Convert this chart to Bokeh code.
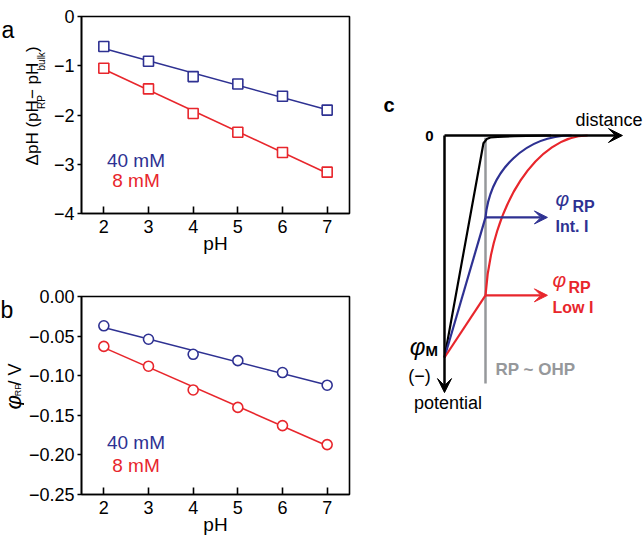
import numpy as np
from math import pi
from bokeh.plotting import figure
from bokeh.layouts import row, column
from bokeh.models import (Range1d, FixedTicker, CustomJSTickFormatter,
                          Arrow, VeeHead)
from bokeh.core.properties import value
from bokeh.embed import file_html
from bokeh.resources import INLINE

# ---------------- data ----------------
ph = [2, 3, 4, 5, 6, 7]
dph_40mM = [-0.61, -0.91, -1.22, -1.37, -1.62, -1.90]
dph_8mM = [-1.05, -1.47, -1.97, -2.35, -2.76, -3.16]
phi_40mM = [-0.037, -0.054, -0.073, -0.081, -0.096, -0.112]
phi_8mM = [-0.063, -0.088, -0.118, -0.140, -0.163, -0.187]
x_ticks = [2, 3, 4, 5, 6, 7]
ya_ticks = [0, -1, -2, -3, -4]
yb_ticks = [0.0, -0.05, -0.10, -0.15, -0.20, -0.25]
series_names = ["40 mM", "8 mM"]

# schematic (panel c): distance (OHP = 1) vs potential (phi_M = -1)
black_d = [0.0, 0.95, 1.03, 1.12, 1.3, 1.7, 2.6]
black_p = [-1.0, -0.035, -0.016, -0.009, -0.006, -0.003, 0.0]
ohp_d = 1.0
blue_rp = -0.369
red_rp = -0.72
# bezier control points (after the OHP) for the two diffuse-layer curves
blue_bez = dict(x0=1.0, y0=-0.369, cx0=1.12, cy0=-0.15, cx1=2.0, cy1=0.0, x1=3.1, y1=0.0)
red_bez = dict(x0=1.0, y0=-0.72, cx0=1.15, cy0=-0.30, cx1=2.3, cy1=0.0, x1=3.49, y1=0.0)

BLUE = "#2E3192"
RED = "#E8262C"
GRAY = "#96989B"
FONT = "Liberation Sans"


def style_axes(p, yfmt):
    p.xgrid.visible = False
    p.ygrid.visible = False
    p.outline_line_color = "black"
    p.outline_line_width = 1.6
    for ax in (p.xaxis[0], p.yaxis[0]):
        ax.axis_line_color = "black"
        ax.axis_line_width = 1.6
        ax.major_tick_line_color = "black"
        ax.major_tick_line_width = 1.6
        ax.minor_tick_line_color = None
        ax.major_label_text_font = FONT
        ax.major_label_text_font_size = "18px"
        ax.major_label_text_color = "black"
        ax.axis_label_text_font = FONT
        ax.axis_label_text_font_size = "19px"
        ax.axis_label_text_font_style = "normal"
        ax.axis_label_text_color = "black"
    p.xaxis.ticker = FixedTicker(ticks=x_ticks)
    p.xaxis.major_tick_in = 7
    p.xaxis.major_tick_out = 0
    p.xaxis.major_label_standoff = 6
    p.xaxis.axis_label = "pH"
    p.xaxis.axis_label_standoff = -3
    p.yaxis.major_tick_in = 0
    p.yaxis.major_tick_out = 4
    p.yaxis.major_label_standoff = 3
    p.yaxis.formatter = CustomJSTickFormatter(code=yfmt)


def fit_line(p, xs, ys, color):
    k, b = np.polyfit(xs, ys, 1)
    xx = [xs[0], xs[-1]]
    p.line(xx, [k * v + b for v in xx], line_color=color, line_width=1.6)


def txt(p, x, y, text, size, angle=0.0, style="normal", color="black",
        align="left", baseline="alphabetic"):
    p.text(x=[x], y=[y], text=[text], angle=angle, text_font=value(FONT),
           text_font_size=size, text_font_style=style, text_color=color,
           text_align=align, text_baseline=baseline)


def vtxt(p, x, y, text, size, style="normal"):
    txt(p, x, y, text, size, angle=pi / 2, style=style, align="center",
        baseline="middle")


def strip(width, height, y0):
    # pixel-like coordinates: x to the right, y = -(page y) so y points up
    s = figure(width=width, height=height, output_backend="svg", title=None,
               toolbar_location=None, x_range=Range1d(0, width),
               y_range=Range1d(-(y0 + height), -y0))
    s.min_border_left = s.min_border_right = 0
    s.min_border_top = s.min_border_bottom = 0
    s.axis.visible = False
    s.grid.visible = False
    s.outline_line_color = None
    return s


# ---------------- panel a ----------------
LA_W = 50
pa = figure(width=360 - LA_W, height=266, output_backend="svg", title=None,
            toolbar_location=None, x_range=Range1d(1.5, 7.5), y_range=Range1d(-4, 0))
pa.min_border_left = 81 - LA_W
pa.min_border_right = 11
pa.min_border_top = 16
pa.min_border_bottom = 53
style_axes(pa, "return tick < -1e-9 ? '\u2212' + Math.abs(tick).toFixed(0) : '0';")
pa.yaxis.ticker = FixedTicker(ticks=ya_ticks)
fit_line(pa, ph, dph_40mM, BLUE)
fit_line(pa, ph, dph_8mM, RED)
pa.scatter(ph, dph_40mM, marker="square", size=10, fill_color="white",
           line_color=BLUE, line_width=1.6)
pa.scatter(ph, dph_8mM, marker="square", size=10, fill_color="white",
           line_color=RED, line_width=1.6)
txt(pa, 2.72, -2.92, series_names[0], "19px", color=BLUE, align="center", baseline="middle")
txt(pa, 2.72, -3.33, series_names[1], "19px", color=RED, align="center", baseline="middle")

la = strip(LA_W, 266, 0)
vtxt(la, 31.5, -157, "ΔpH (pH", "17px")
vtxt(la, 41.0, -115.5, "RP", "10px")
vtxt(la, 31.5, -87, "\u2212 pH", "17px")
vtxt(la, 41.0, -60.5, "bulk", "10px")
vtxt(la, 31.5, -44, ")", "17px")
txt(la, 1, 0, "a", "23px", baseline="top")

# ---------------- panel b ----------------
LB_W = 24
pb = figure(width=360 - LB_W, height=275, output_backend="svg", title=None,
            toolbar_location=None, x_range=Range1d(1.5, 7.5), y_range=Range1d(-0.25, 0))
pb.min_border_left = 81 - LB_W
pb.min_border_right = 11
pb.min_border_top = 30
pb.min_border_bottom = 47
style_axes(pb, "const v = Math.abs(tick) < 1e-9 ? 0 : tick; return v < 0 ? '\u2212' + (-v).toFixed(2) : v.toFixed(2);")
pb.yaxis.ticker = FixedTicker(ticks=yb_ticks)
fit_line(pb, ph, phi_40mM, BLUE)
fit_line(pb, ph, phi_8mM, RED)
pb.scatter(ph, phi_40mM, marker="circle", size=10, fill_color="white",
           line_color=BLUE, line_width=1.6)
pb.scatter(ph, phi_8mM, marker="circle", size=10, fill_color="white",
           line_color=RED, line_width=1.6)
txt(pb, 2.72, -0.184, series_names[0], "19px", color=BLUE, align="center", baseline="middle")
txt(pb, 2.72, -0.213, series_names[1], "19px", color=RED, align="center", baseline="middle")

lb = strip(LB_W, 275, 266)
vtxt(lb, 12.5, -413, "φ", "22px", style="italic")
vtxt(lb, 17, -396, "RP", "9px")
vtxt(lb, 14, -374.5, "/ V", "18px")
txt(lb, 0, -266, "b", "23px", baseline="top")

# ---------------- panel c ----------------
pc = figure(width=284, height=541, output_backend="svg", title=None,
            toolbar_location=None, x_range=Range1d(-2.0488, 4.878),
            y_range=Range1d(-1.8288, 0.6081))
pc.min_border_left = pc.min_border_right = 0
pc.min_border_top = pc.min_border_bottom = 0
pc.axis.visible = False
pc.grid.visible = False
pc.outline_line_color = None

pc.line([ohp_d, ohp_d], [-0.01, -1.117], line_color=GRAY, line_width=2.5)
pc.line(black_d, black_p, line_color="black", line_width=2.2)
pc.line([0, ohp_d], [-1.0, blue_rp], line_color=BLUE, line_width=2.2)
pc.bezier(**{k: [v] for k, v in blue_bez.items()}, line_color=BLUE, line_width=2.2)
pc.line([0, ohp_d], [-1.0, red_rp], line_color=RED, line_width=2.2)
pc.bezier(**{k: [v] for k, v in red_bez.items()}, line_color=RED, line_width=2.2)

pc.add_layout(Arrow(x_start=0, y_start=0, x_end=4.34, y_end=0, line_width=2.5,
                    line_color="black",
                    end=VeeHead(size=14, fill_color="black", line_color="black")))
pc.add_layout(Arrow(x_start=0, y_start=0, x_end=0, y_end=-1.158, line_width=2.5,
                    line_color="black",
                    end=VeeHead(size=14, fill_color="black", line_color="black")))
pc.add_layout(Arrow(x_start=ohp_d, y_start=blue_rp, x_end=2.51, y_end=blue_rp,
                    line_width=2.2, line_color=BLUE,
                    end=VeeHead(size=13, fill_color=BLUE, line_color=BLUE)))
pc.add_layout(Arrow(x_start=ohp_d, y_start=red_rp, x_end=2.51, y_end=red_rp,
                    line_width=2.2, line_color=RED,
                    end=VeeHead(size=13, fill_color=RED, line_color=RED)))

DY = 0.027  # small upward nudge of the schematic's texts
txt(pc, -1.488, 0.1126 + DY, "c", "20px", style="bold")
txt(pc, -0.268, -0.0315 + DY, "0", "15px", style="bold", align="right")
txt(pc, 4.829, 0.045 + DY, "distance", "18px", align="right")
txt(pc, -0.463, -0.977 + DY, "φ", "24px", style="italic", align="right")
txt(pc, -0.463, -0.995 + DY, "M", "15px", style="bold")
txt(pc, -0.61, -1.097 + DY / 2, "(\u2212)", "18px", align="center", baseline="middle")
txt(pc, 0.085, -1.234 + DY, "potential", "18px", align="center")
txt(pc, 1.244, -1.081 + DY, "RP ~ OHP", "17px", style="bold", color=GRAY)
txt(pc, 2.707, -0.311 + DY, "φ", "21px", style="italic", color=BLUE)
txt(pc, 3.122, -0.347 + DY, "RP", "16px", style="bold", color=BLUE)
txt(pc, 2.707, -0.437 + DY, "Int. I", "16px", style="bold", color=BLUE)
txt(pc, 2.634, -0.676 + DY, "φ", "21px", style="italic", color=RED)
txt(pc, 3.024, -0.712 + DY, "RP", "16px", style="bold", color=RED)
txt(pc, 2.634, -0.802 + DY, "Low I", "16px", style="bold", color=RED)

layout = row(column(row(la, pa), row(lb, pb)), pc)
open("out.html", "w").write(file_html(layout, INLINE))
